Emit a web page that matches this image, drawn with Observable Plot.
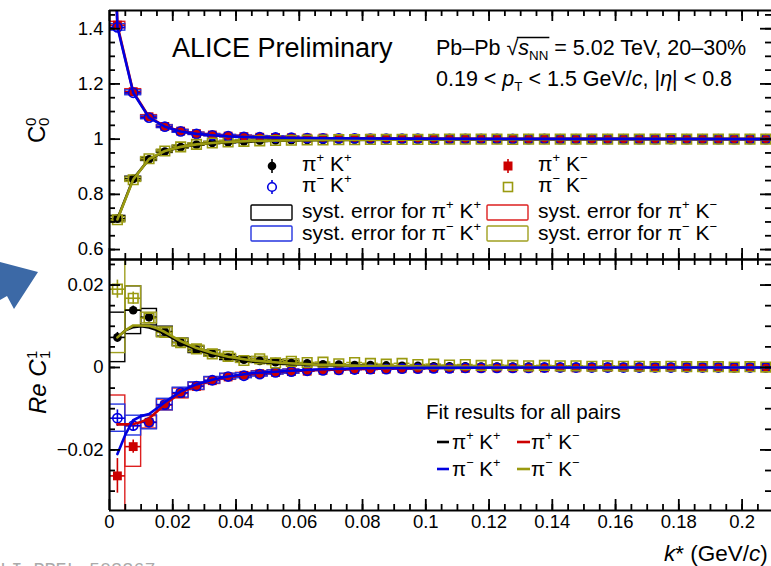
<!DOCTYPE html>
<html><head><meta charset="utf-8">
<script src="https://cdn.jsdelivr.net/npm/d3@7"></script>
<script src="https://cdn.jsdelivr.net/npm/@observablehq/plot@0.6"></script>
<style>
html,body{margin:0;padding:0;background:#fff;overflow:hidden}
#chart{position:relative;width:771px;height:566px;overflow:hidden;font-family:"Liberation Sans",Arial,sans-serif}
#chart > svg{position:absolute;left:0}
</style></head><body><div id="chart"></div>
<script>
// ---------- data ----------
const kStar = [0.0025,0.0075,0.0125,0.0175,0.0225,0.0275,0.0325,0.0375,0.0425,0.0475,0.0525,0.0575,0.0625,0.0675,0.0725,0.0775,0.0825,0.0875,0.0925,0.0975,0.1025,0.1075,0.1125,0.1175,0.1225,0.1275,0.1325,0.1375,0.1425,0.1475,0.1525,0.1575,0.1625,0.1675,0.1725,0.1775,0.1825,0.1875,0.1925,0.1975,0.2025,0.2075];

// C_0^0
const c00_piPkP = [0.712,0.856,0.927,0.955,0.971,0.980,0.986,0.989,0.992,0.994,0.995,0.996,0.997,0.997,0.998,0.998,0.998,0.999,0.999,0.999,0.999,1.000,0.999,1.000,1.000,1.000,0.999,1.000,1.000,1.000,1.000,1.000,1.000,1.001,1.000,1.000,1.000,1.000,1.000,1.000,1.000,1.000];
const c00_piMkM = [0.708,0.853,0.929,0.957,0.972,0.981,0.986,0.990,0.992,0.994,0.995,0.996,0.997,0.997,0.998,0.998,0.999,0.999,0.999,0.999,0.999,1.000,1.000,1.000,1.000,0.999,1.000,1.000,1.000,1.000,1.000,1.000,1.000,1.000,1.000,1.001,1.000,1.000,1.000,1.000,1.000,1.000];
const c00_piPkM = [1.413,1.172,1.081,1.046,1.029,1.020,1.015,1.011,1.009,1.007,1.006,1.005,1.004,1.004,1.003,1.003,1.003,1.002,1.002,1.002,1.002,1.001,1.001,1.001,1.001,1.001,1.001,1.001,1.000,1.001,1.000,1.000,1.000,1.000,1.000,1.000,1.000,1.000,1.000,1.000,1.000,1.000];
const c00_piMkP = [1.405,1.168,1.078,1.045,1.028,1.019,1.014,1.011,1.008,1.007,1.006,1.005,1.004,1.003,1.003,1.003,1.002,1.002,1.002,1.002,1.001,1.001,1.001,1.001,1.001,1.001,1.000,1.001,1.000,1.000,1.000,1.000,1.000,1.000,1.000,1.000,1.000,1.000,1.000,1.000,1.000,1.000];
const c00_stat = [0.008,0.005,0.003,0.002];
const c00_systLike = [0.010,0.008,0.006,0.005,0.005,0.004,0.004,0.004,0.004,0.004,0.004,0.004];
const c00_systUnlike = [0.012,0.009,0.006,0.005,0.005,0.004,0.004,0.004,0.004,0.004,0.004,0.004];

const fitKTopUnlike = [0.0015,0.0025,0.0075,0.0125,0.0175,0.0225,0.0275,0.0325,0.0375,0.045,0.055,0.07,0.09,0.12,0.16,0.21];
const fitTop_piPkM = [1.74,1.412,1.171,1.080,1.046,1.029,1.019,1.014,1.010,1.008,1.005,1.003,1.002,1.001,1.001,1.000];
const fitTop_piMkP = [1.76,1.406,1.168,1.078,1.045,1.028,1.019,1.014,1.010,1.007,1.005,1.003,1.002,1.001,1.001,1.000];
const fitKTopLike = [0.0025,0.0075,0.0125,0.0175,0.0225,0.0275,0.0325,0.0375,0.045,0.055,0.07,0.09,0.12,0.16,0.21];
const fitTop_piPkP = [0.711,0.856,0.927,0.956,0.971,0.980,0.986,0.989,0.992,0.995,0.997,0.998,0.999,1.000,1.000];
const fitTop_piMkM = [0.709,0.854,0.928,0.957,0.972,0.981,0.986,0.990,0.993,0.995,0.997,0.998,0.999,1.000,1.000];

// Re C_1^1
const re11_piPkP = [0.0073,0.0139,0.0122,0.0087,0.0061,0.0043,0.0034,0.0024,0.0019,0.0016,0.0013,0.0011,0.0010,0.0008,0.0007,0.0006,0.0006,0.0005,0.0004,0.0004,0.0003,0.0003,0.0003,0.0002,0.0002,0.0002,0.0002,0.0001,0.0001,0.0001,0.0001,0.0001,0.0001,0.0001,0.0000,0.0001,0.0000,0.0001,0.0000,0.0000,0.0000,0.0000];
const re11_piMkM = [0.0190,0.0168,0.0120,0.0085,0.0060,0.0045,0.0033,0.0027,0.0017,0.0021,0.0011,0.0015,0.0012,0.0013,0.0009,0.0012,0.0010,0.0008,0.0010,0.0007,0.0008,0.0006,0.0007,0.0005,0.0006,0.0005,0.0004,0.0005,0.0004,0.0004,0.0003,0.0004,0.0003,0.0003,0.0002,0.0003,0.0002,0.0002,0.0002,0.0001,0.0002,0.0001];
const re11_piPkM = [-0.0263,-0.0192,-0.0133,-0.0091,-0.0063,-0.0046,-0.0032,-0.0023,-0.0019,-0.0015,-0.0012,-0.0010,-0.0009,-0.0007,-0.0006,-0.0005,-0.0005,-0.0004,-0.0003,-0.0003,-0.0002,-0.0002,-0.0002,-0.0001,-0.0001,-0.0001,-0.0001,-0.0001,0.0000,-0.0001,0.0000,0.0000,0.0000,0.0000,0.0000,0.0000,0.0000,0.0000,0.0000,0.0000,0.0000,0.0000];
const re11_piMkP = [-0.0123,-0.0141,-0.0133,-0.0090,-0.0061,-0.0045,-0.0031,-0.0022,-0.0020,-0.0016,-0.0012,-0.0010,-0.0008,-0.0007,-0.0006,-0.0005,-0.0004,-0.0004,-0.0003,-0.0003,-0.0002,-0.0002,-0.0001,-0.0001,-0.0001,-0.0001,-0.0001,0.0000,0.0000,0.0000,0.0000,0.0000,0.0000,0.0000,0.0000,0.0000,0.0000,0.0000,0.0000,0.0000,0.0000,0.0000];
const re11stat_piPkP = [0.0012,0.0010,0.0008,0.0006,0.0005,0.0004];
const re11stat_piMkM = [0.0022,0.0015,0.0010,0.0007,0.0005,0.0004];
const re11stat_piPkM = [0.0042,0.0016,0.0010,0.0007,0.0005,0.0004];
const re11stat_piMkP = [0.0020,0.0014,0.0009,0.0007,0.0005,0.0004];
const re11syst_piPkP = [0.0060,0.0058,0.0020,0.0012,0.0009,0.0008,0.0007,0.0006,0.0006,0.0005,0.0005,0.0005];
const re11syst_piMkM = [0.0155,0.0029,0.0013,0.0012,0.0009,0.0008,0.0007,0.0006,0.0006,0.0005,0.0005,0.0005];
const re11syst_piPkM = [0.0195,0.0049,0.0015,0.0013,0.0012,0.0009,0.0008,0.0007,0.0006,0.0006,0.0005,0.0005];
const re11syst_piMkP = [0.0033,0.0024,0.0017,0.0014,0.0012,0.0009,0.0008,0.0007,0.0006,0.0006,0.0005,0.0005];

const fitKBottom = [0.0025,0.005,0.0075,0.01,0.0125,0.015,0.0175,0.0225,0.0275,0.0325,0.0375,0.045,0.055,0.065,0.08,0.1,0.13,0.17,0.21];
const fitB_piPkP = [0.0073,0.0090,0.0098,0.0100,0.0097,0.0091,0.0082,0.0060,0.0044,0.0032,0.0024,0.0015,0.0009,0.0006,0.0003,0.0001,0.0000,0.0000,0.0000];
const fitB_piMkM = [0.0073,0.0090,0.0102,0.0102,0.0101,0.0095,0.0086,0.0064,0.0047,0.0035,0.0026,0.0017,0.0011,0.0007,0.0004,0.0002,0.0001,0.0000,0.0000];
const fitB_piPkM = [-0.0138,-0.0138,-0.0137,-0.0132,-0.0124,-0.0107,-0.0089,-0.0061,-0.0043,-0.0031,-0.0023,-0.0015,-0.0009,-0.0006,-0.0003,-0.0001,0.0000,0.0000,0.0000];
const fitB_piMkP = [-0.0210,-0.0163,-0.0128,-0.0118,-0.0113,-0.0099,-0.0084,-0.0058,-0.0041,-0.0030,-0.0022,-0.0014,-0.0009,-0.0005,-0.0002,-0.0001,0.0000,0.0000,0.0000];

// ticks
const xTicks = [0,0.02,0.04,0.06,0.08,0.1,0.12,0.14,0.16,0.18,0.2];
const yTicksTop = [0.6,0.8,1,1.2,1.4];
const yTicksBottom = [-0.02,0,0.02];

// ---------- styling ----------
const COL = {piPkP:"#000000", piPkM:"#cc0000", piMkP:"#0000e0", piMkM:"#9a9a10"};
const SYS = {piPkP:"#000000", piPkM:"#dd2020", piMkP:"#2535e0", piMkM:"#a0a020"};
const W = 771, ML = 109;
const xDomain = [0, 0.2093];
const binHalf = 0.0025;
const FONT = '"Liberation Sans", Arial, Helvetica, sans-serif';

const rows = (vals) => vals.map((v,i)=>({k:kStar[i], v}));
const bands = (vals, errs) => errs.map((e,i)=>({k:kStar[i], lo:vals[i]-e, hi:vals[i]+e}));
const fitRows = (ks, vals) => vals.map((v,i)=>({k:ks[i], v}));

const xMinor = d3.range(0.005, xDomain[1], 0.005);

function frameMarks(innerW, innerH, yDom, yMaj, yMin) {
  const L = 11, l = 6, sw = 1.8, s = "#000";
  return [
    Plot.tickX(xTicks, {x:d=>d, insetTop:innerH-L, stroke:s, strokeWidth:sw}),
    Plot.tickX(xMinor, {x:d=>d, insetTop:innerH-l, stroke:s, strokeWidth:sw}),
    Plot.tickX(xTicks, {x:d=>d, insetBottom:innerH-L, stroke:s, strokeWidth:sw}),
    Plot.tickX(xMinor, {x:d=>d, insetBottom:innerH-l, stroke:s, strokeWidth:sw}),
    Plot.tickY(yMaj, {y:d=>d, insetRight:innerW-L, stroke:s, strokeWidth:sw}),
    Plot.tickY(yMin, {y:d=>d, insetRight:innerW-l, stroke:s, strokeWidth:sw}),
    Plot.tickY(yMaj, {y:d=>d, insetLeft:innerW-L, stroke:s, strokeWidth:sw}),
    Plot.tickY(yMin, {y:d=>d, insetLeft:innerW-l, stroke:s, strokeWidth:sw}),
    Plot.ruleX([0], {stroke:s, strokeWidth:2.2}),
    Plot.ruleY([yDom[0]], {stroke:s, strokeWidth:2.2}),
    Plot.ruleY([yDom[1]], {stroke:s, strokeWidth:2.2})
  ];
}

function dataMarks(S, fits) {
  const m = [];
  for (const s of S) m.push(Plot.rect(bands(s.vals, s.syst), {x1:d=>d.k-binHalf, x2:d=>d.k+binHalf, y1:"lo", y2:"hi", fill:"none", stroke:SYS[s.id], strokeWidth:1.4, clip:true}));
  for (const s of S) {
    m.push(Plot.ruleY(rows(s.vals), {y:"v", x1:d=>d.k-binHalf, x2:d=>d.k+binHalf, stroke:COL[s.id], strokeWidth:1.6, clip:true}));
    m.push(Plot.ruleX(bands(s.vals, s.stat), {x:"k", y1:"lo", y2:"hi", stroke:COL[s.id], strokeWidth:1.6, clip:true}));
  }
  for (const s of S) {
    const o = {x:"k", y:"v", clip:true};
    if (s.id === "piPkP") Object.assign(o, {r:4.3, fill:COL.piPkP});
    if (s.id === "piPkM") Object.assign(o, {symbol:"square", r:5, fill:COL.piPkM});
    if (s.id === "piMkP") Object.assign(o, {r:4.6, fill:"none", stroke:COL.piMkP, strokeWidth:1.6});
    if (s.id === "piMkM") Object.assign(o, {symbol:"square", r:5.4, fill:"none", stroke:COL.piMkM, strokeWidth:1.6});
    m.push(Plot.dot(rows(s.vals), o));
  }
  for (const f of fits) m.push(Plot.line(fitRows(f.ks, f.vals), {x:"k", y:"v", stroke:COL[f.id], strokeWidth:2.6, clip:true}));
  return m;
}

const chart = document.getElementById("chart");

// ---------- top panel ----------
{
  const height = 259, mt = 10, mb = 0;
  const yDom = [0.564, 1.466];
  const S = [
    {id:"piPkP", vals:c00_piPkP, syst:c00_systLike, stat:c00_stat},
    {id:"piPkM", vals:c00_piPkM, syst:c00_systUnlike, stat:c00_stat},
    {id:"piMkP", vals:c00_piMkP, syst:c00_systUnlike, stat:c00_stat},
    {id:"piMkM", vals:c00_piMkM, syst:c00_systLike, stat:c00_stat}
  ];
  const fits = [
    {id:"piPkP", ks:fitKTopLike, vals:fitTop_piPkP},
    {id:"piPkM", ks:fitKTopUnlike, vals:fitTop_piPkM},
    {id:"piMkM", ks:fitKTopLike, vals:fitTop_piMkM},
    {id:"piMkP", ks:fitKTopUnlike, vals:fitTop_piMkP}
  ];
  const p = Plot.plot({
    width: W, height, marginLeft: ML, marginRight: 0, marginTop: mt, marginBottom: mb,
    style: {fontFamily: FONT, background: "transparent", overflow: "visible", color: "#000"},
    x: {domain: xDomain, axis: null, label: null},
    y: {domain: yDom, label: null},
    marks: [
      ...dataMarks(S, fits),
      ...frameMarks(W-ML, height-mt-mb, yDom, yTicksTop, d3.range(0.6, 1.46, 0.05)),
      Plot.axisY(yTicksTop, {anchor:"left", tickSize:0, tickPadding:6, fontSize:18.5, label:null, tickFormat:d=>String(d)})
    ]
  });
  p.style.top = "0px";
  chart.appendChild(p);
}

// ---------- bottom panel ----------
{
  const height = 307, mt = 0, mb = 56;
  const yDom = [-0.0347, 0.0262];
  const S = [
    {id:"piPkP", vals:re11_piPkP, syst:re11syst_piPkP, stat:re11stat_piPkP},
    {id:"piPkM", vals:re11_piPkM, syst:re11syst_piPkM, stat:re11stat_piPkM},
    {id:"piMkP", vals:re11_piMkP, syst:re11syst_piMkP, stat:re11stat_piMkP},
    {id:"piMkM", vals:re11_piMkM, syst:re11syst_piMkM, stat:re11stat_piMkM}
  ];
  const fits = [
    {id:"piPkP", ks:fitKBottom, vals:fitB_piPkP},
    {id:"piPkM", ks:fitKBottom, vals:fitB_piPkM},
    {id:"piMkM", ks:fitKBottom, vals:fitB_piMkM},
    {id:"piMkP", ks:fitKBottom, vals:fitB_piMkP}
  ];
  const p = Plot.plot({
    width: W, height, marginLeft: ML, marginRight: 0, marginTop: mt, marginBottom: mb,
    style: {fontFamily: FONT, background: "transparent", overflow: "visible", color: "#000"},
    x: {domain: xDomain, label: null},
    y: {domain: yDom, label: null},
    marks: [
      ...dataMarks(S, fits),
      ...frameMarks(W-ML, height-mt-mb, yDom, yTicksBottom, d3.range(-0.03, 0.026, 0.005)),
      Plot.axisY(yTicksBottom, {anchor:"left", tickSize:0, tickPadding:6, fontSize:18.5, label:null,
        tickFormat:d => d < 0 ? "\u2212" + String(-d) : String(d)}),
      Plot.axisX(xTicks, {anchor:"bottom", tickSize:0, tickPadding:4, fontSize:18.5, label:null,
        tickFormat:d => String(+d.toFixed(2))})
    ]
  });
  p.style.top = "259px";
  chart.appendChild(p);
}

// ---------- annotations / legends ----------
const ov = d3.create("svg").attr("width", W).attr("height", 566)
  .style("top", "0px").style("font-family", FONT).style("pointer-events", "none");
chart.appendChild(ov.node());

function rich(g, x, y, parts, size, anchor) {
  const t = g.append("text").attr("x", x).attr("y", y).attr("font-size", size)
    .attr("text-anchor", anchor || "start").attr("fill", "#000");
  let shift = 0;
  for (const p of parts) {
    const ts = t.append("tspan").text(p.t);
    const target = p.sup ? -0.42*size : p.sub ? 0.24*size : 0;
    ts.attr("dy", target - shift); shift = target;
    if (p.sup || p.sub) ts.attr("font-size", size*0.62);
    if (p.i) ts.attr("font-style", "italic");
    if (p.dx) ts.attr("dx", p.dx);
  }
  return t;
}
const P = "\u03c0", M = "\u2212";
const pair = (a, b) => [{t:P},{t:a,sup:1},{t:" K"},{t:b,sup:1}];

// decorative arrow at left edge
ov.append("path").attr("d", "M0,262 L38,272 L14,309 L7,296 L0,300 Z").attr("fill", "#3c69a6");

// title texts
rich(ov, 172, 57, [{t:"ALICE Preliminary"}], 27);
const l1 = rich(ov, 436, 55, [{t:"Pb\u2013Pb \u221a"},{t:"s",i:1},{t:"NN",sub:1},{t:" = 5.02 TeV, 20\u201330%"}], 21.5);
{
  const n = l1.node();
  const x0 = n.getEndPositionOfChar(6).x - 1.5, x1 = n.getEndPositionOfChar(9).x + 1;
  ov.append("line").attr("x1", x0).attr("x2", x1).attr("y1", 55-17.5).attr("y2", 55-17.5).attr("stroke", "#000").attr("stroke-width", 1.3);
}
rich(ov, 436, 86, [{t:"0.19 < "},{t:"p",i:1},{t:"T",sub:1},{t:" < 1.5 GeV/"},{t:"c",i:1},{t:", |"},{t:"\u03b7",i:1},{t:"| < 0.8"}], 21.5);

// axis titles
{
  const g = ov.append("g").attr("transform", "translate(45,129) rotate(-90)");
  rich(g, -14, 0, [{t:"C"}], 24);
  g.append("text").attr("x", 3).attr("y", -9).attr("font-size", 15).text("0");
  g.append("text").attr("x", 3).attr("y", 4).attr("font-size", 15).text("0");
}
{
  const g = ov.append("g").attr("transform", "translate(46,381) rotate(-90)");
  rich(g, -33, 0, [{t:"Re C",i:1}], 24);
  g.append("text").attr("x", 22).attr("y", -9).attr("font-size", 15).text("1");
  g.append("text").attr("x", 22).attr("y", 4).attr("font-size", 15).text("1");
}
rich(ov, 664, 561, [{t:"k",i:1},{t:"* (GeV/"},{t:"c",i:1},{t:")"}], 22.5);

// top legend
{
  const fs = 21;
  const r1 = 166, r2 = 187;
  ov.append("line").attr("x1",272).attr("x2",272).attr("y1",r1-7).attr("y2",r1+7).attr("stroke",COL.piPkP).attr("stroke-width",1.6);
  ov.append("circle").attr("cx",272).attr("cy",r1).attr("r",4.3).attr("fill",COL.piPkP);
  ov.append("line").attr("x1",508).attr("x2",508).attr("y1",r1-7).attr("y2",r1+7).attr("stroke",COL.piPkM).attr("stroke-width",1.6);
  ov.append("rect").attr("x",503.5).attr("y",r1-4.5).attr("width",9).attr("height",9).attr("fill",COL.piPkM);
  ov.append("line").attr("x1",272).attr("x2",272).attr("y1",r2-7).attr("y2",r2+7).attr("stroke",COL.piMkP).attr("stroke-width",1.6);
  ov.append("circle").attr("cx",272).attr("cy",r2).attr("r",4.3).attr("fill","#fff").attr("stroke",COL.piMkP).attr("stroke-width",1.6);
  ov.append("rect").attr("x",503.5).attr("y",r2-4.5).attr("width",9).attr("height",9).attr("fill","#fff").attr("stroke",COL.piMkM).attr("stroke-width",1.6);
  rich(ov, 302, r1+5, pair("+","+"), fs);
  rich(ov, 538, r1+5, pair("+",M), fs);
  rich(ov, 302, r2+5, pair(M,"+"), fs);
  rich(ov, 538, r2+5, pair(M,M), fs);
  const box = (x,y,c) => ov.append("rect").attr("x",x).attr("y",y).attr("width",41).attr("height",15).attr("rx",1).attr("fill","none").attr("stroke",c).attr("stroke-width",1.4);
  box(251,205,SYS.piPkP); box(487,205,SYS.piPkM); box(251,226,SYS.piMkP); box(487,226,SYS.piMkM);
  rich(ov, 302, 218, [{t:"syst. error for "}, ...pair("+","+")], fs);
  rich(ov, 538, 218, [{t:"syst. error for "}, ...pair("+",M)], fs);
  rich(ov, 302, 240, [{t:"syst. error for "}, ...pair(M,"+")], fs);
  rich(ov, 538, 240, [{t:"syst. error for "}, ...pair(M,M)], fs);
}

// fit legend
{
  const fs = 20.5;
  rich(ov, 426, 419, [{t:"Fit results for all pairs"}], fs);
  const b1 = 449, b2 = 476;
  const ln = (x1,x2,y,c) => ov.append("line").attr("x1",x1).attr("x2",x2).attr("y1",y).attr("y2",y).attr("stroke",c).attr("stroke-width",2.6);
  ln(437,449,b1-7,COL.piPkP); ln(517,530,b1-7,COL.piPkM); ln(437,449,b2-7,COL.piMkP); ln(517,530,b2-7,COL.piMkM);
  rich(ov, 452, b1, pair("+","+"), fs);
  rich(ov, 531, b1, pair("+",M), fs);
  rich(ov, 452, b2, pair(M,"+"), fs);
  rich(ov, 531, b2, pair(M,M), fs);
}

// watermark (cut at the bottom edge in the original)
ov.append("text").attr("x", -11).attr("y", 575).attr("font-family", '"Liberation Mono", "DejaVu Sans Mono", monospace')
  .attr("font-size", 18.5).attr("fill", "#aaaaaa").text("ALI-PREL-503367");
</script>
</body></html>
